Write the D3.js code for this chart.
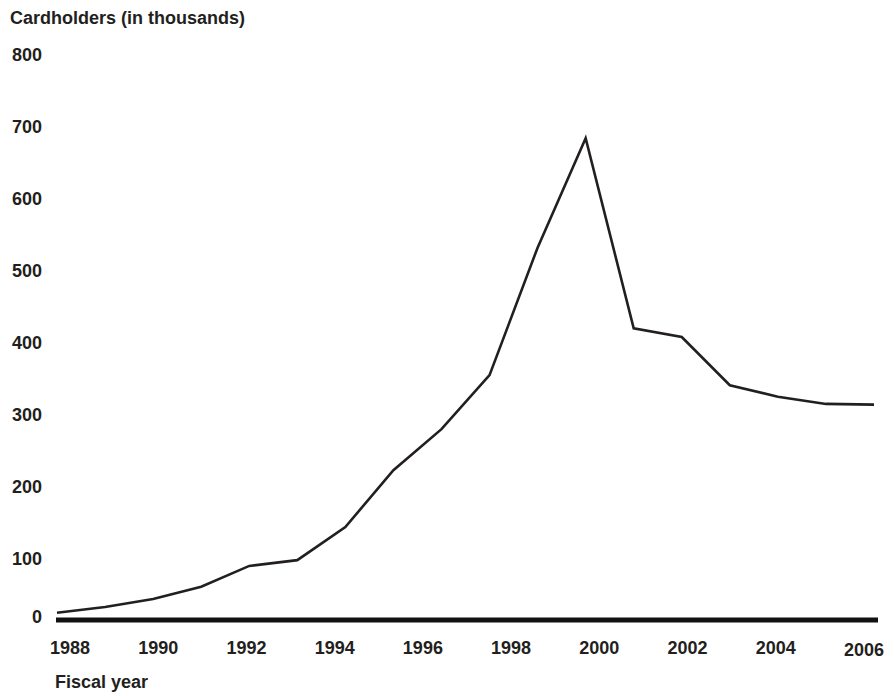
<!DOCTYPE html>
<html>
<head>
<meta charset="utf-8">
<script src="https://cdn.jsdelivr.net/npm/d3@7"></script>
<style>
  body { margin: 0; background: #fff; }
  svg text { font-family: "Liberation Sans", Arial, sans-serif; font-weight: bold; fill: #231f20; }
</style>
</head>
<body>
<svg id="chart" width="896" height="696"></svg>
<script>
// fiscal years and cardholders (thousands)
const years = [1989, 1990, 1991, 1992, 1993, 1994, 1995, 1996, 1997, 1998,
  1999, 2000, 2001, 2002, 2003, 2004, 2005, 2006];
const cardholders = [24, 32, 43, 60, 89, 97, 143, 222, 279, 354,
  531, 683, 419, 407, 340, 324, 314, 313];
const yTicks = [0, 100, 200, 300, 400, 500, 600, 700, 800];
const yearLabels = [1988, 1990, 1992, 1994, 1996, 1998, 2000, 2002, 2004, 2006];

const svg = d3.select('#chart');
const ink = '#231f20';

const x = d3.scaleLinear().domain([1989, 2006]).range([57, 874]);
const xLabel = d3.scaleLinear().domain([1988, 2006]).range([70, 864]);
const y = d3.scaleLinear().domain([0, 800]).range([630, 54]);
const baseY = 620;

// title
svg.append('text')
  .attr('x', 10).attr('y', 24)
  .style('font-size', '18px')
  .text('Cardholders (in thousands)');

// y axis labels
const yAxis = svg.append('g')
  .attr('transform', 'translate(42,0)')
  .call(d3.axisLeft(y).tickValues(yTicks).tickSize(0).tickPadding(0));
yAxis.select('.domain').remove();
yAxis.selectAll('text')
  .attr('dy', '0.36em')
  .style('font-size', '18px')
  .style('font-family', '"Liberation Sans", Arial, sans-serif')
  .attr('fill', ink);
// the zero label sits on the baseline bar
yAxis.selectAll('.tick').filter(d => d === 0)
  .attr('transform', `translate(0,${baseY - 3})`);

// baseline bar
svg.append('line')
  .attr('x1', x(1989) - 1).attr('x2', x(2006) + 4)
  .attr('y1', baseY).attr('y2', baseY)
  .attr('stroke', '#111')
  .attr('stroke-width', 5);

// x labels
svg.append('g').selectAll('text')
  .data(yearLabels)
  .join('text')
  .attr('x', d => xLabel(d))
  .attr('y', d => d === 2006 ? 656 : 654)
  .attr('text-anchor', 'middle')
  .style('font-size', '18px')
  .text(d => d);

svg.append('text')
  .attr('x', 55).attr('y', 688)
  .style('font-size', '18px')
  .text('Fiscal year');

// line
const line = d3.line()
  .x((d, i) => x(years[i]))
  .y(d => y(d));

svg.append('path')
  .datum(cardholders)
  .attr('d', line)
  .attr('fill', 'none')
  .attr('stroke', ink)
  .attr('stroke-width', 2.6)
  .attr('stroke-linejoin', 'miter');
</script>
</body>
</html>
